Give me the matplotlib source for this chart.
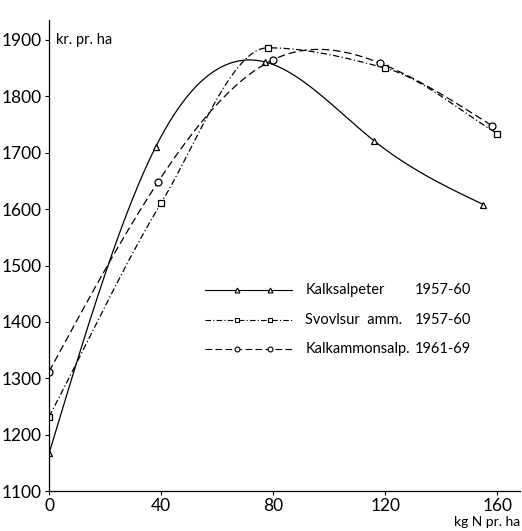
import matplotlib
matplotlib.use("Agg")
import matplotlib.pyplot as plt
import numpy as np

plt.rcParams['font.family'] = ['Lato', 'DejaVu Sans']

# kg N pr. ha / kr. pr. ha
kalksalpeter_x = [0, 38, 77, 116, 155]
kalksalpeter_y = [1167, 1710, 1861, 1721, 1608]
svovlsur_x = [0, 40, 78, 120, 160]
svovlsur_y = [1232, 1611, 1886, 1850, 1734]
kalkammon_x = [0, 39, 80, 118, 158]
kalkammon_y = [1312, 1649, 1865, 1859, 1748]

names = ['Kalksalpeter', 'Svovlsur  amm.', 'Kalkammonsalp.']
years = ['1957-60', '1957-60', '1961-69']
x_ticks = [0, 40, 80, 120, 160]
y_ticks = [1100, 1200, 1300, 1400, 1500, 1600, 1700, 1800, 1900]


def spline(x, y, n=200):
    # natural cubic spline through the measured points, for drawing only
    x = np.asarray(x, float)
    y = np.asarray(y, float)
    k = len(x)
    h = np.diff(x)
    A = np.zeros((k, k))
    b = np.zeros(k)
    A[0, 0] = A[-1, -1] = 1
    for i in range(1, k - 1):
        A[i, i - 1] = h[i - 1]
        A[i, i] = 2 * (h[i - 1] + h[i])
        A[i, i + 1] = h[i]
        b[i] = 6 * ((y[i + 1] - y[i]) / h[i] - (y[i] - y[i - 1]) / h[i - 1])
    m = np.linalg.solve(A, b)
    xs = np.linspace(x[0], x[-1], n)
    j = np.clip(np.searchsorted(x, xs) - 1, 0, k - 2)
    t = xs - x[j]
    hj = h[j]
    a = (y[j + 1] - y[j]) / hj - hj * (2 * m[j] + m[j + 1]) / 6
    ys = y[j] + a * t + m[j] / 2 * t ** 2 + (m[j + 1] - m[j]) / (6 * hj) * t ** 3
    return xs, ys


def pchip(x, y, n=200):
    # shape preserving curve (no overshoot at the top point)
    x = np.asarray(x, float)
    y = np.asarray(y, float)
    h = np.diff(x)
    d = np.diff(y) / h
    m = np.zeros(len(x))
    m[0], m[-1] = d[0], d[-1]
    for i in range(1, len(x) - 1):
        if d[i - 1] * d[i] > 0:
            w1 = 2 * h[i] + h[i - 1]
            w2 = h[i] + 2 * h[i - 1]
            m[i] = (w1 + w2) / (w1 / d[i - 1] + w2 / d[i])
    xs = np.linspace(x[0], x[-1], n)
    j = np.clip(np.searchsorted(x, xs) - 1, 0, len(x) - 2)
    t = (xs - x[j]) / h[j]
    h00 = 2 * t ** 3 - 3 * t ** 2 + 1
    h10 = t ** 3 - 2 * t ** 2 + t
    h01 = -2 * t ** 3 + 3 * t ** 2
    h11 = t ** 3 - t ** 2
    ys = h00 * y[j] + h10 * h[j] * m[j] + h01 * y[j + 1] + h11 * h[j] * m[j + 1]
    return xs, ys


fig = plt.figure(figsize=(5.22, 5.31), dpi=100)
ax = fig.add_axes([0.094, 0.075, 0.902, 0.887])

series = [
    (kalksalpeter_x, kalksalpeter_y, '-', '^', spline),
    (svovlsur_x, svovlsur_y, (0, (5, 2, 1, 2)), 's', pchip),
    (kalkammon_x, kalkammon_y, (0, (6, 3)), 'o', spline),
]
for x, y, ls, mk, curve in series:
    xs, ys = curve(x, y)
    ax.plot(xs, ys, color='black', lw=0.9, ls=ls)
    ax.plot(x, y, ls='none', marker=mk, ms=5, mfc='white', mec='black', mew=0.9)

# legend drawn by hand so the years line up in a column
rows = [0.427, 0.363, 0.301]
for (x, y, ls, mk, curve), name, yr, ry in zip(series, names, years, rows):
    ax.plot([0.331, 0.40, 0.47, 0.516], [ry] * 4, transform=ax.transAxes,
            color='black', lw=0.8, ls=ls, marker=mk, ms=3.5, mfc='white',
            mec='black', mew=0.8, markevery=[1, 2], clip_on=False)
    ax.text(0.544, ry, name, transform=ax.transAxes, fontsize=10.5, va='center')
    ax.text(0.777, ry, yr, transform=ax.transAxes, fontsize=10.5, va='center')

ax.set_xlim(0, 168)
ax.set_ylim(1100, 1935)
ax.set_xticks(x_ticks)
ax.set_yticks(y_ticks)
ax.tick_params(labelsize=12.5, length=3, width=0.8, pad=2)
for s in ['top', 'right']:
    ax.spines[s].set_visible(False)
for s in ['left', 'bottom']:
    ax.spines[s].set_linewidth(0.9)

ax.text(0.015, 1900, 'kr. pr. ha', transform=ax.get_yaxis_transform(),
        fontsize=10.5, va='center')
ax.text(1.0, -0.065, 'kg N pr. ha', transform=ax.transAxes, fontsize=10,
        ha='right', va='center')

fig.savefig('out.png', dpi=100)
